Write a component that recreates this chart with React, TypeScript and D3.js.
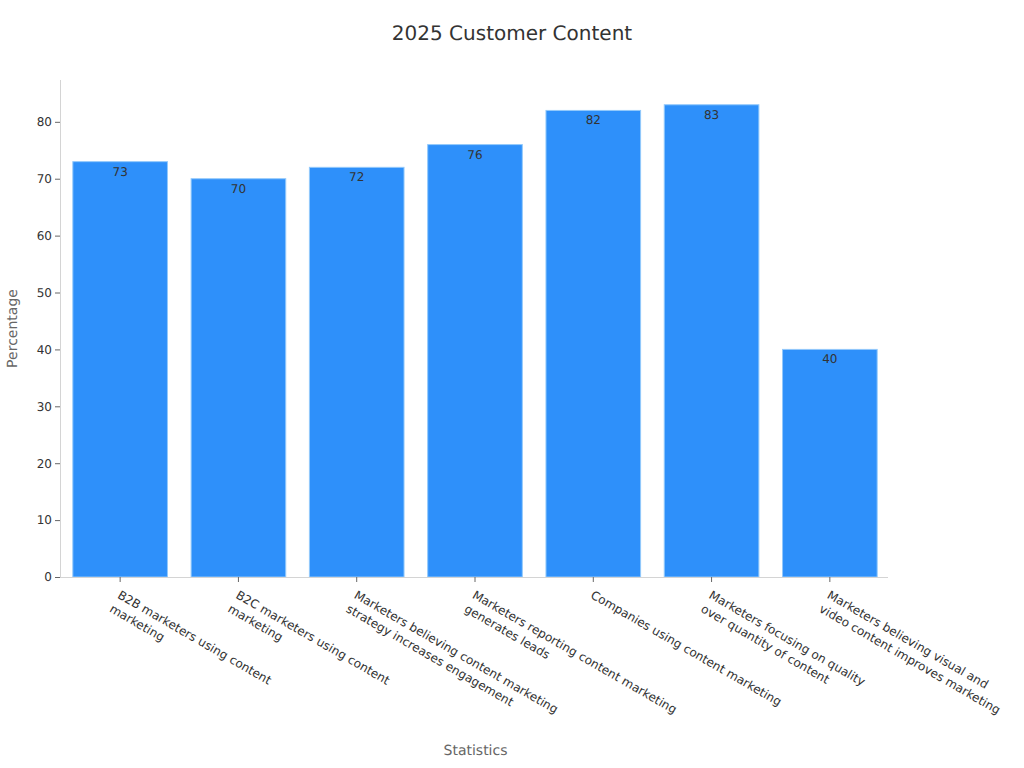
import { useEffect, useRef } from 'react'
import * as d3 from 'd3'

const categories = [
  'B2B marketers using content marketing',
  'B2C marketers using content marketing',
  'Marketers believing content marketing strategy increases engagement',
  'Marketers reporting content marketing generates leads',
  'Companies using content marketing',
  'Marketers focusing on quality over quantity of content',
  'Marketers believing visual and video content improves marketing',
]
const categoryLines = [
  ['B2B marketers using content', 'marketing'],
  ['B2C marketers using content', 'marketing'],
  ['Marketers believing content marketing', 'strategy increases engagement'],
  ['Marketers reporting content marketing', 'generates leads'],
  ['Companies using content marketing'],
  ['Marketers focusing on quality', 'over quantity of content'],
  ['Marketers believing visual and', 'video content improves marketing'],
]
const values = [73, 70, 72, 76, 82, 83, 40]
const yTicks = [0, 10, 20, 30, 40, 50, 60, 70, 80]

const width = 1024
const height = 768
const margin = { top: 80, right: 136, bottom: 191, left: 60 }
const font = '"DejaVu Sans", sans-serif'
const axisLine = '#d4d4d4'

export default function App() {
  const svgRef = useRef<SVGSVGElement>(null)

  useEffect(() => {
    if (!svgRef.current) return
    const svg = d3.select(svgRef.current)
    svg.selectAll('*').remove()

    const baseline = height - margin.bottom
    const x = d3
      .scaleBand<string>()
      .domain(categories)
      .range([margin.left + 1, width - margin.right + 1])
      .paddingInner(0.2)
      .paddingOuter(0.1)
    // 80 sits at y=122, so the domain runs a bit past the last tick
    const y = d3
      .scaleLinear()
      .domain([0, 87.35])
      .range([baseline, margin.top])

    svg
      .append('text')
      .attr('x', width / 2)
      .attr('y', 40)
      .attr('text-anchor', 'middle')
      .attr('font-size', 20)
      .attr('fill', '#333')
      .text('2025 Customer Content')

    svg
      .append('g')
      .selectAll('rect')
      .data(categories)
      .join('rect')
      .attr('x', d => x(d) as number)
      .attr('y', (_, i) => y(values[i]))
      .attr('width', x.bandwidth())
      .attr('height', (_, i) => baseline - y(values[i]))
      .attr('fill', '#2e90fa')
      .attr('stroke', '#93c9fb')
      .attr('stroke-width', 1)

    svg
      .append('g')
      .selectAll('text')
      .data(categories)
      .join('text')
      .attr('x', d => (x(d) as number) + x.bandwidth() / 2)
      .attr('y', (_, i) => y(values[i]) + 14)
      .attr('text-anchor', 'middle')
      .attr('font-size', 12)
      .attr('fill', '#333')
      .text((_, i) => values[i])

    const yAxis = svg
      .append('g')
      .attr('transform', `translate(${margin.left},0)`)
      .call(d3.axisLeft(y).tickValues(yTicks).tickSize(5).tickPadding(3))
    yAxis.select('.domain').attr('stroke', axisLine).attr('d', `M0.5,${margin.top}V${baseline + 0.5}`)
    yAxis.selectAll('.tick line').attr('stroke', '#666')
    yAxis.selectAll('.tick text').attr('fill', '#333').attr('font-size', 12).attr('font-family', font)

    const xAxis = svg
      .append('g')
      .attr('transform', `translate(0,${baseline})`)
      .call(d3.axisBottom(x).tickSize(5).tickFormat(() => ''))
    xAxis.select('.domain').attr('stroke', axisLine).attr('d', `M${margin.left},0.5H${width - margin.right}`)
    xAxis.selectAll('.tick line').attr('stroke', '#666')

    // wrapped category labels, rotated 30deg below each tick
    const labels = svg
      .append('g')
      .selectAll('text')
      .data(categories)
      .join('text')
      .attr('transform', d => `translate(${(x(d) as number) + x.bandwidth() / 2 + 2.5},${baseline + 10}) rotate(30)`)
      .attr('font-size', 12)
      .attr('fill', '#333')
    labels
      .selectAll('tspan')
      .data((_, i) => categoryLines[i])
      .join('tspan')
      .attr('x', 0)
      .attr('y', (_, i) => 12 + i * 16)
      .text(d => d)

    svg
      .append('text')
      .attr('x', (margin.left + width - margin.right) / 2 + 1.5)
      .attr('y', 755)
      .attr('text-anchor', 'middle')
      .attr('font-size', 14)
      .attr('fill', '#666')
      .text('Statistics')

    svg
      .append('text')
      .attr('transform', `translate(17,${(margin.top + baseline) / 2}) rotate(-90)`)
      .attr('text-anchor', 'middle')
      .attr('font-size', 14)
      .attr('fill', '#666')
      .text('Percentage')
  }, [])

  return (
    <svg
      ref={svgRef}
      width={width}
      height={height}
      style={{
        position: 'absolute',
        left: 0,
        top: 0,
        fontFamily: font,
        background: '#fff',
        textRendering: 'geometricPrecision',
        opacity: 0.999,
      }}
    />
  )
}
